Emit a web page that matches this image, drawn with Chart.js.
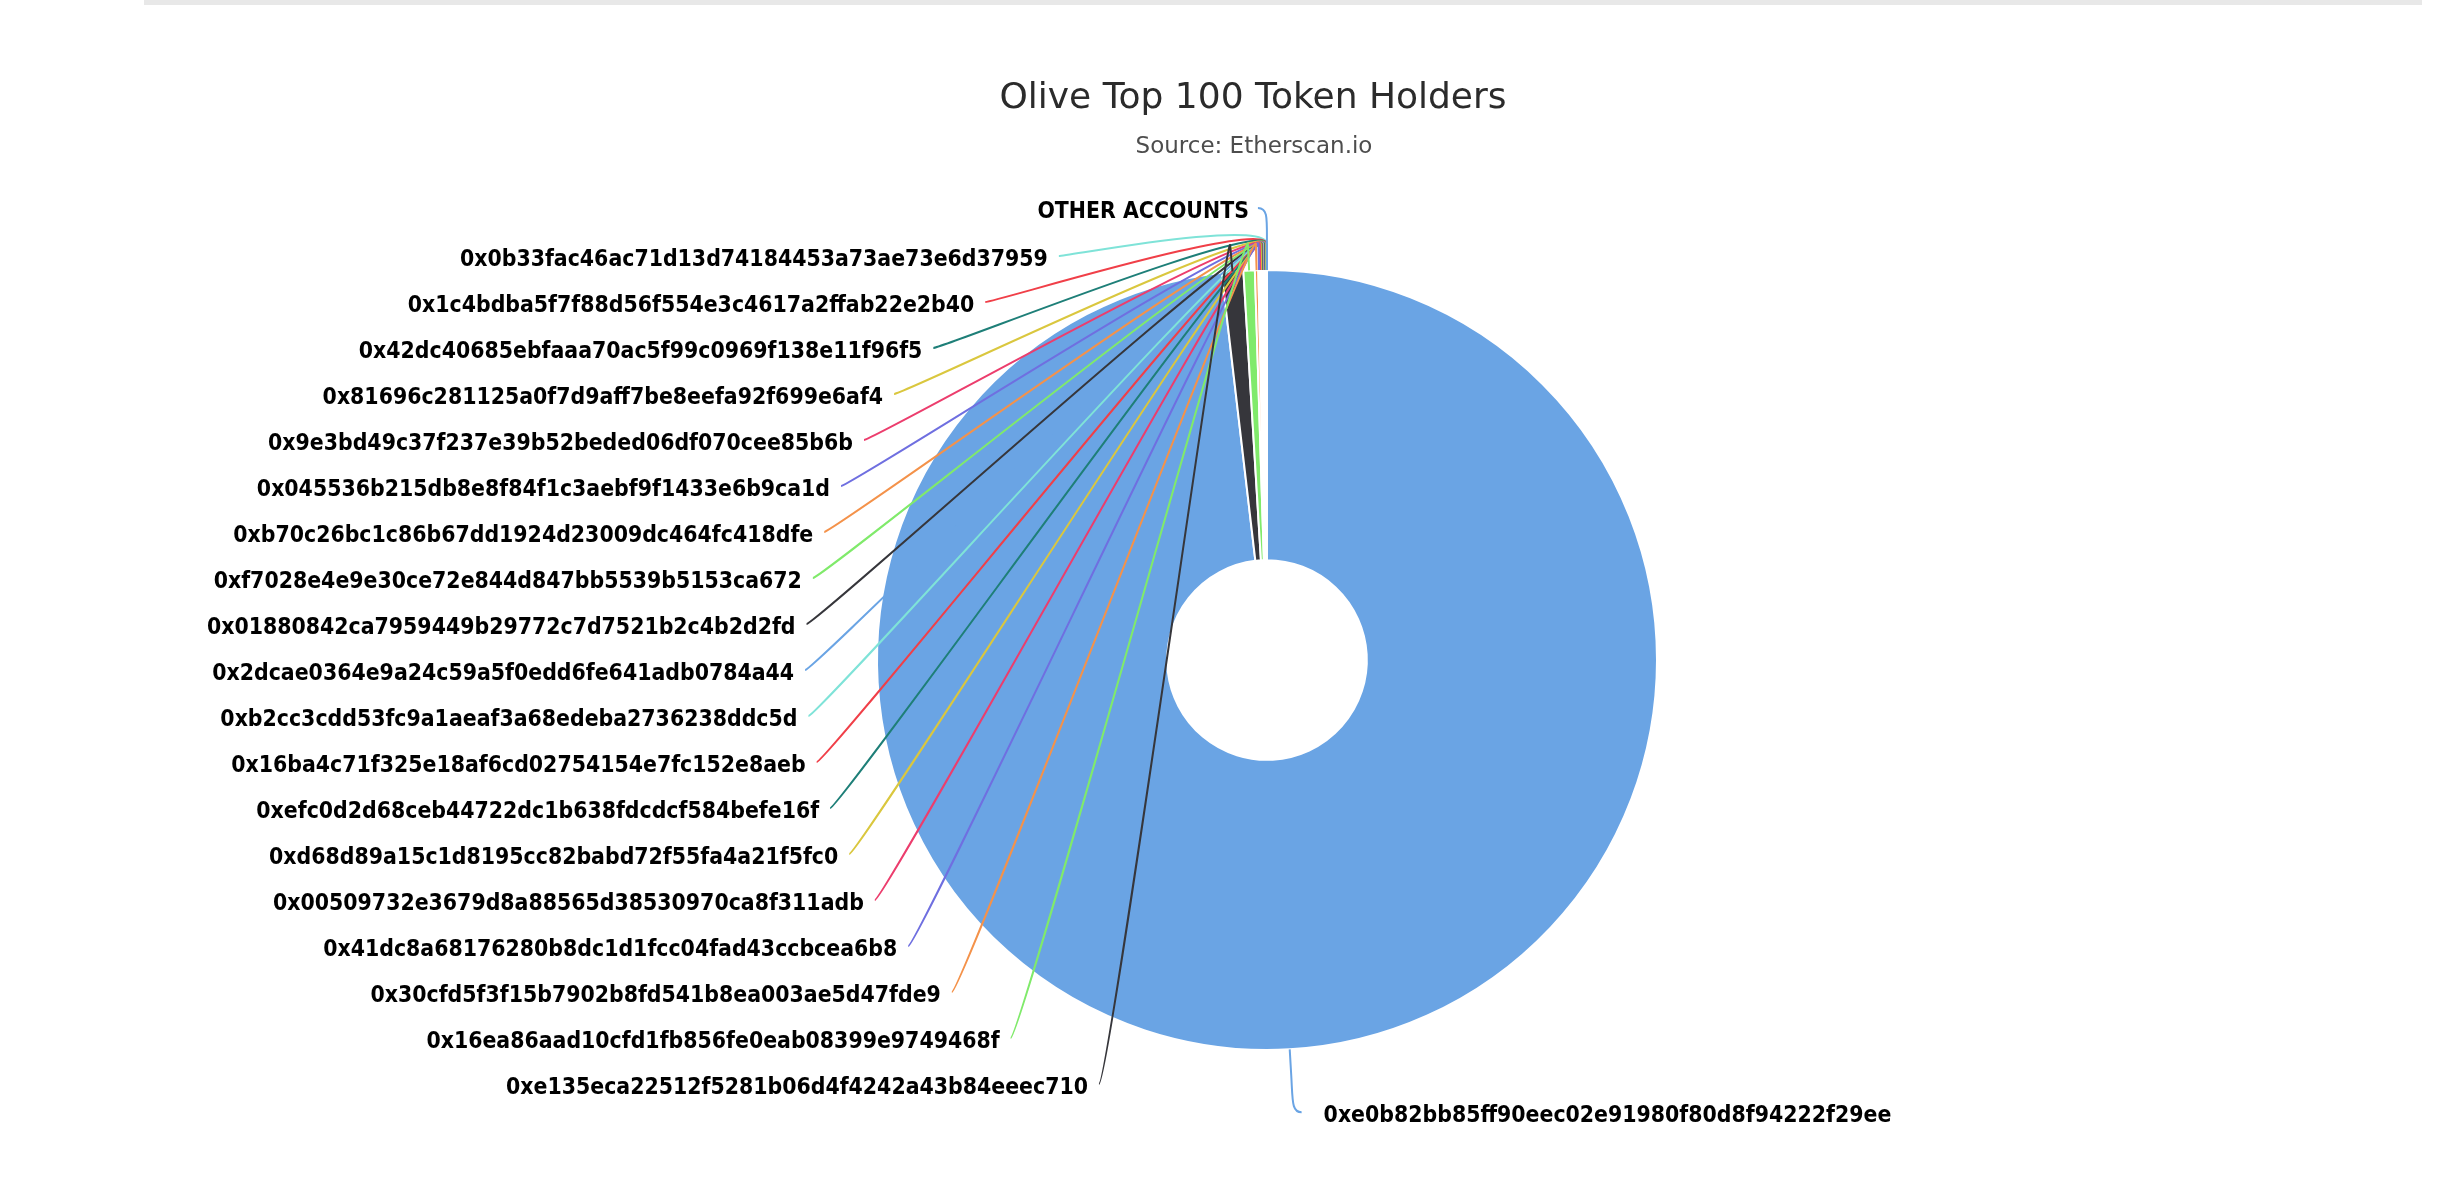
<!DOCTYPE html>
<html>
<head>
<meta charset="utf-8">
<title>Olive Top 100 Token Holders</title>
<script src="https://cdn.jsdelivr.net/npm/chart.js@4/dist/chart.umd.min.js"></script>
<style>
  html, body { margin: 0; padding: 0; background: #fff; overflow: hidden; }
  #topbar { position: absolute; left: 144px; top: 0; width: 2278px; height: 5px; background: #e8e8e8; }
  #holders { position: absolute; left: 0; top: 0; }
</style>
</head>
<body>
<div id="topbar"></div>
<canvas id="holders" width="2458" height="1180"></canvas>
<script>
// cuentas (en el orden del gráfico, empieza arriba y gira en sentido horario)
const holders = [
  '0xe0b82bb85ff90eec02e91980f80d8f94222f29ee',
  '0xe135eca22512f5281b06d4f4242a43b84eeec710',
  '0x16ea86aad10cfd1fb856fe0eab08399e9749468f',
  '0x30cfd5f3f15b7902b8fd541b8ea003ae5d47fde9',
  '0x41dc8a68176280b8dc1d1fcc04fad43ccbcea6b8',
  '0x00509732e3679d8a88565d38530970ca8f311adb',
  '0xd68d89a15c1d8195cc82babd72f55fa4a21f5fc0',
  '0xefc0d2d68ceb44722dc1b638fdcdcf584befe16f',
  '0x16ba4c71f325e18af6cd02754154e7fc152e8aeb',
  '0xb2cc3cdd53fc9a1aeaf3a68edeba2736238ddc5d',
  '0x2dcae0364e9a24c59a5f0edd6fe641adb0784a44',
  '0x01880842ca7959449b29772c7d7521b2c4b2d2fd',
  '0xf7028e4e9e30ce72e844d847bb5539b5153ca672',
  '0xb70c26bc1c86b67dd1924d23009dc464fc418dfe',
  '0x045536b215db8e8f84f1c3aebf9f1433e6b9ca1d',
  '0x9e3bd49c37f237e39b52beded06df070cee85b6b',
  '0x81696c281125a0f7d9aff7be8eefa92f699e6af4',
  '0x42dc40685ebfaaa70ac5f99c0969f138e11f96f5',
  '0x1c4bdba5f7f88d56f554e3c4617a2ffab22e2b40',
  '0x0b33fac46ac71d13d74184453a73ae73e6d37959',
  'OTHER ACCOUNTS'
];

// porcentaje del total (leído a ojo del dibujo)
const shares = [
  98.14, 0.89, 0.47, 0.14, 0.06, 0.04, 0.03, 0.03, 0.025, 0.02,
  0.02, 0.02, 0.02, 0.015, 0.015, 0.015, 0.01, 0.01, 0.01, 0.01,
  0.005
];

const palette = ['#6aa4e4', '#36363b', '#80ea6b', '#f4924a', '#6f6fe0',
                 '#ec3d6d', '#dac73e', '#1e7f78', '#f03f48', '#7fe3d8'];
const sliceColors = holders.map((h, i) => palette[i % palette.length]);

const labelFont = 'bold 22.8px "DejaVu Sans Condensed", "DejaVu Sans", sans-serif';

// dibuja la línea desde la etiqueta hasta el borde de la porción
function connector(ctx, sx, sy, bend, p, color) {
  ctx.beginPath();
  ctx.moveTo(sx, sy);
  ctx.bezierCurveTo(sx + bend, sy,
    2 * p.brk.x - p.touch.x, 2 * p.brk.y - p.touch.y,
    p.brk.x, p.brk.y);
  ctx.lineTo(p.touch.x, p.touch.y);
  ctx.strokeStyle = color;
  ctx.lineWidth = 2;
  ctx.stroke();
}

const outsideLabels = {
  id: 'outsideLabels',
  afterDatasetsDraw(chart) {
    const ctx = chart.ctx;
    const arcs = chart.getDatasetMeta(0).data;
    const cx = arcs[0].x, cy = arcs[0].y, r = arcs[0].outerRadius;
    const last = arcs.length - 1;

    const pts = arcs.map((a, i) => {
      const mid = (a.startAngle + a.endAngle) / 2;
      return {
        i, mid,
        touch: { x: cx + Math.cos(mid) * r, y: cy + Math.sin(mid) * r },
        brk: { x: cx + Math.cos(mid) * (r + 26), y: cy + Math.sin(mid) * (r + 26) }
      };
    });

    ctx.save();
    // título y subtítulo
    ctx.textAlign = 'center';
    ctx.textBaseline = 'middle';
    ctx.fillStyle = '#2b2b2b';
    ctx.font = '36px "DejaVu Sans", sans-serif';
    ctx.fillText('Olive Top 100 Token Holders', cx - 14, 99);
    ctx.fillStyle = '#4d4d4d';
    ctx.font = '23px "DejaVu Sans", sans-serif';
    ctx.fillText('Source: Etherscan.io', cx - 13, 147);

    ctx.font = labelFont;
    ctx.fillStyle = '#000000';

    // etiquetas de la izquierda, apiladas
    const left = pts.filter(p => Math.cos(p.mid) < 0 && p.i !== last)
                    .sort((p, q) => p.touch.y - q.touch.y);
    const a = r + 83, b = r + 67, ey = cy + 5, gap = 46;
    left.forEach((p, k) => {
      const y = cy + 14 + (k - (left.length - 1) / 2) * gap;
      const d = (y - ey) / b;
      const xEnd = cx - a * Math.sqrt(Math.max(0, 1 - d * d));
      connector(ctx, xEnd + 11, y - 4, 10, p, sliceColors[p.i]);
      ctx.textAlign = 'right';
      ctx.fillText(holders[p.i], xEnd, y);
    });

    // etiquetas de la derecha
    pts.filter(p => Math.cos(p.mid) >= 0).forEach(p => {
      const y = cy + Math.sin(p.mid) * (r + 67);
      const x = cx + Math.cos(p.mid) * (r + 67) + 30;
      connector(ctx, x - 22, y - 4, -10, p, sliceColors[p.i]);
      ctx.textAlign = 'left';
      ctx.fillText(holders[p.i], x, y);
    });

    // la última porción queda justo arriba
    const top = pts[last];
    const ty = top.touch.y - 58;
    const tx = top.touch.x - 18;
    connector(ctx, tx + 9, ty - 4, 10, top, sliceColors[last]);
    ctx.textAlign = 'right';
    ctx.fillText(holders[last], tx, ty);
    ctx.restore();
  }
};

new Chart(document.getElementById('holders'), {
  type: 'doughnut',
  data: {
    labels: holders,
    datasets: [{
      data: shares,
      backgroundColor: sliceColors,
      borderColor: '#ffffff',
      borderWidth: 2,
      hoverOffset: 0
    }]
  },
  options: {
    responsive: false,
    animation: false,
    events: [],
    cutout: '25.6%',
    layout: { padding: { left: 876, right: 800, top: 269, bottom: 129 } },
    plugins: {
      legend: { display: false },
      title: { display: false },
      tooltip: { enabled: false }
    }
  },
  plugins: [outsideLabels]
});
</script>
</body>
</html>
